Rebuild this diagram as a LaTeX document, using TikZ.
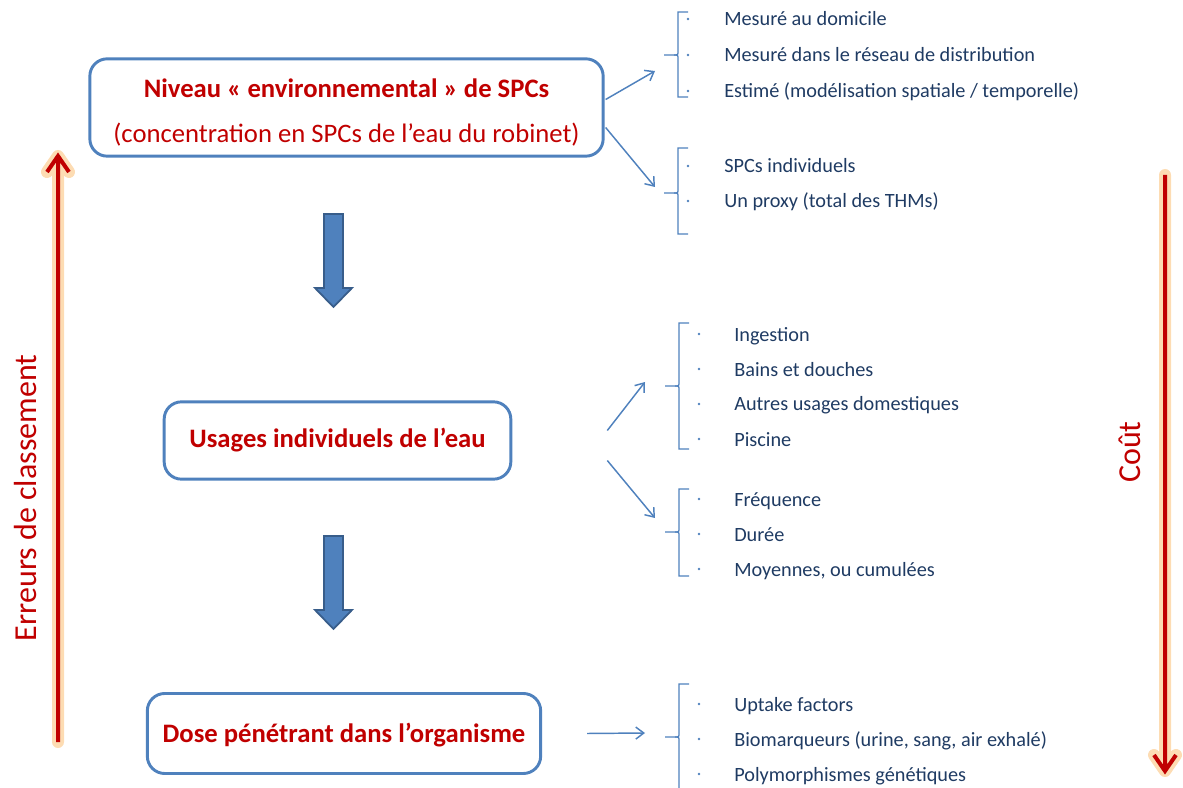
\documentclass[tikz,border=0pt]{standalone}
\usepackage{fontspec}
\setmainfont{Carlito}
\usetikzlibrary{arrows.meta}
\tikzset{
 stage/.style={draw=boxblue,line width=2.2pt,rounded corners=13pt,text=titlered,align=center,inner sep=0pt,font=\fontsize{20}{34}\selectfont\bfseries},
 item/.style={anchor=base west,text=itemtext,inner sep=0pt,font=\fontsize{15.2}{18}\selectfont},
 link/.style={boxblue,line width=1.1pt,-{Straight Barb[length=6pt,width=9pt]}},
 curl/.style={boxblue,line width=1pt},
 halo/.style={glow,line width=9pt,line cap=round,line join=round,opacity=0.8},
 scale line/.style={titlered,line width=3pt,line join=miter},
 side/.style={text=titlered,rotate=90,font=\fontsize{24}{28}\selectfont}
}
\newcommand{\itembrace}[4]{%
 \draw[curl] ({#1+10},#2) -- (#1,#2) -- (#1,{#3-4}) .. controls (#1,#3) .. ({#1-4},#3) -- ({#1-14},#3);
 \draw[curl] ({#1-4},#3) .. controls (#1,#3) .. (#1,{#3+4}) -- (#1,#4) -- ({#1+10},#4);
}
\begin{document}
\begin{tikzpicture}[x=0.75pt,y=-0.75pt]
 \definecolor{boxblue}{HTML}{4F81BD}
 \definecolor{boxdark}{HTML}{385D8A}
 \definecolor{titlered}{HTML}{C00000}
 \definecolor{itemtext}{HTML}{1F3B63}
 \definecolor{glow}{HTML}{FCD3A0}
 \useasboundingbox (0,0) rectangle (1183,788);

 \node[stage,minimum width=385pt,minimum height=73pt] (env) at (346.5,107.5)
  {\rule{0pt}{22pt}Niveau « environnemental » de SPCs\\{\mdseries (concentration en SPCs de l’eau du robinet)}};
 \node[stage,minimum width=260pt,minimum height=58pt] (use) at (337.5,440.5) {Usages individuels de l’eau};
 \node[stage,minimum width=295pt,minimum height=60pt] (dose) at (344,733.5) {\rule{0pt}{17pt}Dose pénétrant dans l’organisme};

 \foreach \t in {214,536}
  \filldraw[fill=boxblue,draw=boxdark,line width=1.3pt,line join=miter]
   (324,\t) -- (343,\t) -- (343,{\t+74}) -- (352,{\t+74}) -- (333.5,{\t+93}) -- (315,{\t+74}) -- (324,{\t+74}) -- cycle;

 \coordinate (env-up) at (655,71);
 \coordinate (env-down) at (655,187);
 \coordinate (use-up) at (645,382);
 \coordinate (use-down) at (655,518);
 \coordinate (dose-right) at (645,733);
 \draw[link] ([shift={(1,-8)}]env.east) -- (env-up);
 \draw[link] ([shift={(1,20)}]env.east) -- (env-down);
 \draw[link] ([shift={(95,-10)}]use.east) -- (use-up);
 \draw[link] ([shift={(95,20)}]use.east) -- (use-down);
 \draw[link] ([shift={(45,0)}]dose.east) -- (dose-right);

 \itembrace{678}{12}{55}{97}
 \itembrace{678}{148}{193}{234}
 \itembrace{679}{323}{386}{449}
 \itembrace{679}{489}{532}{576}
 \itembrace{679}{684}{737}{800}

 \foreach \y/\t [count=\i] in {18/Mesuré au domicile,54/Mesuré dans le réseau de distribution,90/{Estimé (modélisation spatiale / temporelle)}}{
  \fill[boxblue] (688,{\y+1}) circle (1.1pt);
  \node[item] (level-\i) at (724,{\y+8}) {\t};
 }
 \foreach \y/\t [count=\i] in {165/SPCs individuels,200/Un proxy (total des THMs)}{
  \fill[boxblue] (688,{\y+1}) circle (1.1pt);
  \node[item] (kind-\i) at (724,{\y+8}) {\t};
 }
 \foreach \y/\t [count=\i] in {333/Ingestion,368/Bains et douches,403/Autres usages domestiques,438/Piscine}{
  \fill[boxblue] (699,{\y+1}) circle (1.1pt);
  \node[item] (usage-\i) at (734,{\y+8}) {\t};
 }
 \foreach \y/\t [count=\i] in {498/Fréquence,533/Durée,568/{Moyennes, ou cumulées}}{
  \fill[boxblue] (699,{\y+1}) circle (1.1pt);
  \node[item] (time-\i) at (734,{\y+8}) {\t};
 }
 \foreach \y/\t [count=\i] in {703/Uptake factors,738/{Biomarqueurs (urine, sang, air exhalé)},773/Polymorphismes génétiques}{
  \fill[boxblue] (699,{\y+1}) circle (1.1pt);
  \node[item] (dose-\i) at (734,{\y+8}) {\t};
 }

 \draw[halo] (58,742) -- (58,156) (47,172) -- (58,156) -- (69,172);
 \draw[scale line] (58,742) -- (58,157) (47,172) -- (58,156) -- (69,172);
 \draw[halo] (1165,175) -- (1165,771) (1154,755) -- (1165,771) -- (1176,755);
 \draw[scale line] (1165,175) -- (1165,770) (1154,755) -- (1165,771) -- (1176,755);
 \node[side] (errors) at (26,498) {Erreurs de classement};
 \node[side] (cost) at (1130,452) {Coût};
\end{tikzpicture}
\end{document}
